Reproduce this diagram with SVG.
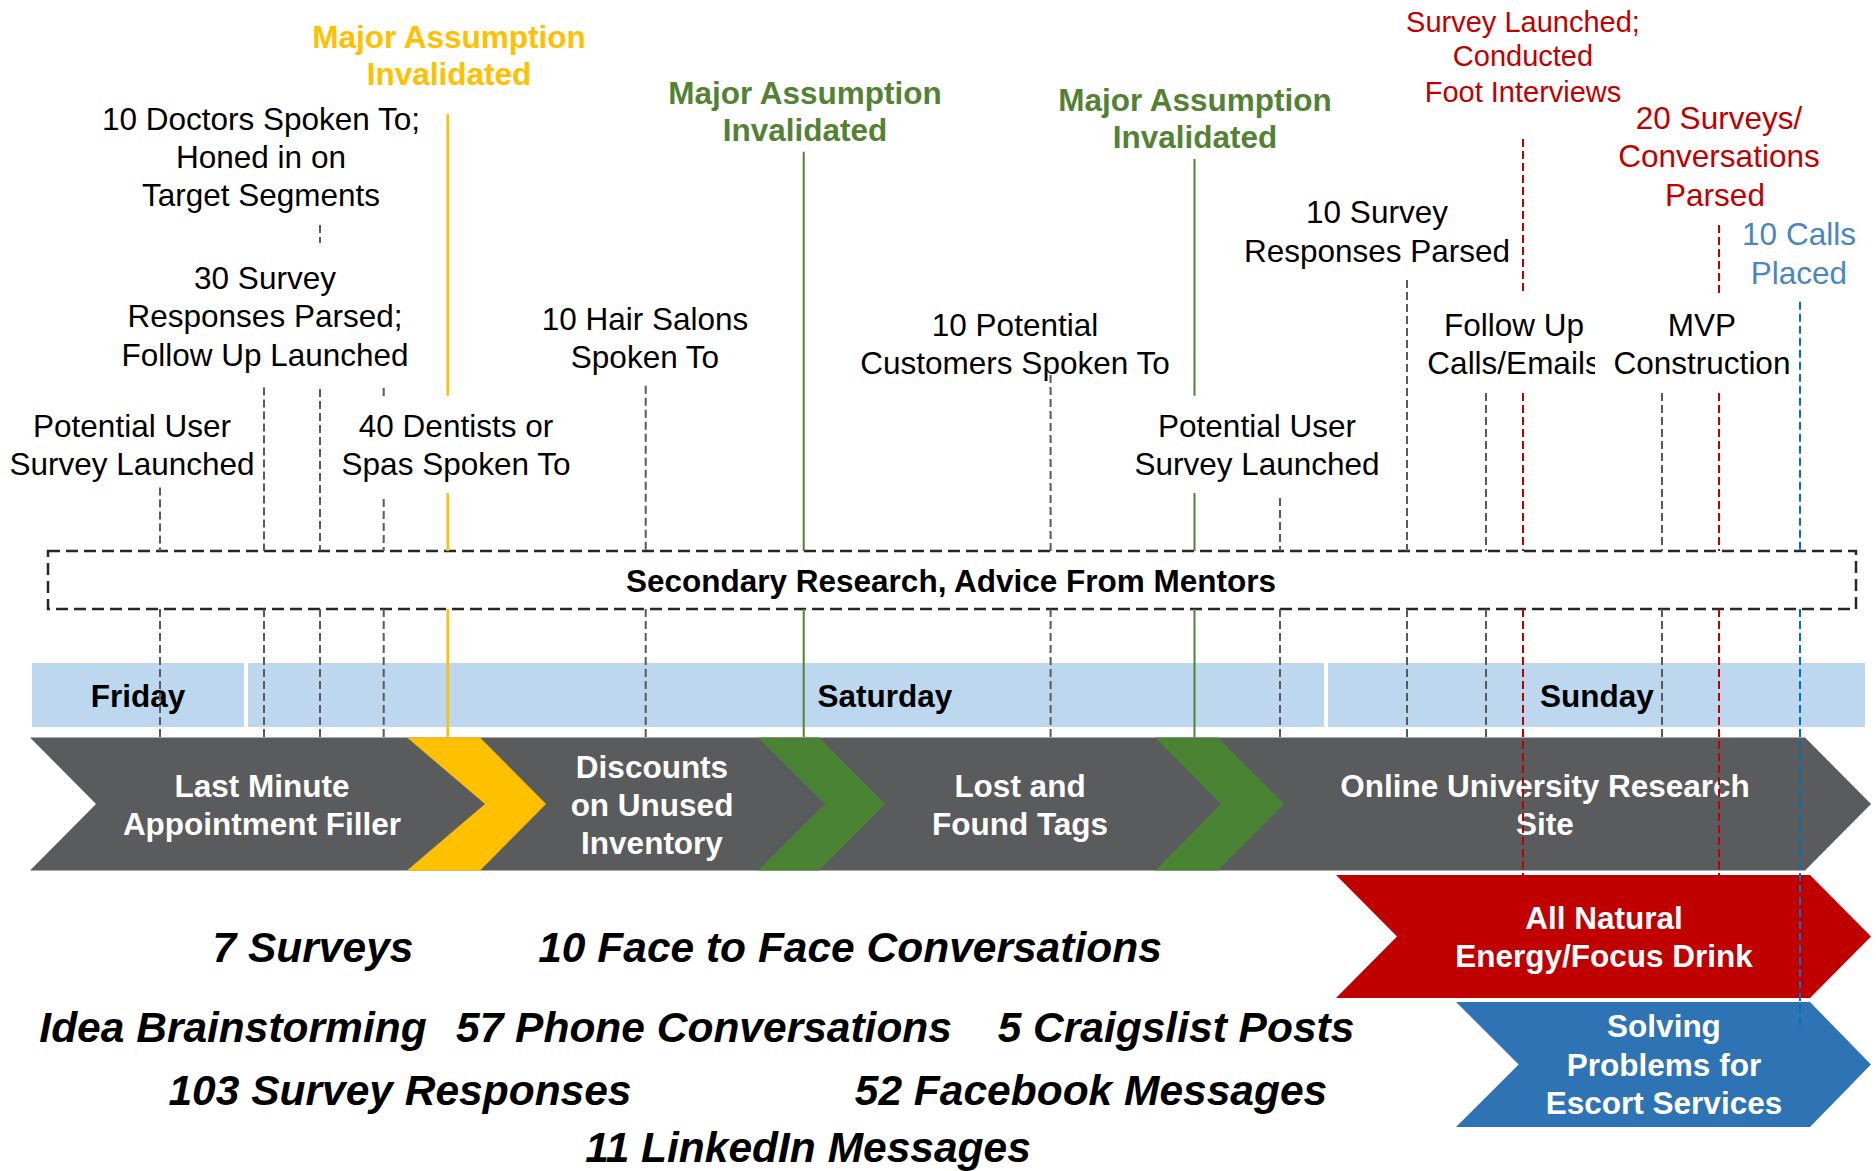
<svg xmlns="http://www.w3.org/2000/svg" width="1876" height="1171" viewBox="0 0 1876 1171">
  <style>
    text { font-family: "Liberation Sans", Arial, sans-serif; font-size: 31.5px; text-anchor: middle; fill: #000; }
    .b { font-weight: bold; }
    .w { fill: #fff; font-weight: bold; }
    .red { fill: #C00000; }
    .yel { fill: #FFC000; font-weight: bold; }
    .grn { fill: #548235; font-weight: bold; }
    .blu { fill: #4A86C0; }
    .stat { font-weight: bold; font-style: italic; font-size: 42.5px; }
    .day { fill: #BDD7EE; }
    .gd { fill: none; stroke: #595959; stroke-width: 2; stroke-dasharray: 8 4; }
    .rd { fill: none; stroke: #C00000; stroke-width: 2; stroke-dasharray: 8 4; }
    .bd { fill: none; stroke: #0070C0; stroke-width: 2; stroke-dasharray: 8 4; }
    .ys { fill: none; stroke: #FFC000; stroke-width: 2.5; }
    .gs { fill: none; stroke: #548235; stroke-width: 2; }
  </style>
  <defs>
    <clipPath id="clipCalls">
      <rect x="1400" y="330" width="195" height="60"/>
    </clipPath>
  </defs>
  <rect width="1876" height="1171" fill="#fff"/>

  <!-- day bars -->
  <g id="days">
    <rect class="day" x="32" y="663" width="212" height="64"/>
    <rect class="day" x="248" y="663" width="1076" height="64"/>
    <rect class="day" x="1328" y="663" width="537" height="64"/>
    <text class="b" x="138" y="707">Friday</text>
    <text class="b" x="885" y="707">Saturday</text>
    <text class="b" x="1597" y="707">Sunday</text>
  </g>

  <!-- ongoing research box -->
  <g id="secondary-research">
    <rect x="48" y="551" width="1808" height="58" fill="none" stroke="#262626" stroke-width="2.5" stroke-dasharray="12 6"/>
    <text class="b" x="951" y="592">Secondary Research, Advice From Mentors</text>
  </g>

  <!-- main idea band -->
  <g id="idea-band">
    <polygon points="30,737.5 1805,737.5 1871,804 1805,870.5 30,870.5 96,804" fill="#5A5B5D"/>
    <polygon points="407,737.5 480,737.5 546,804 480,870.5 407,870.5 485,804" fill="#FFC000"/>
    <polygon points="758,737.5 819,737.5 885,804 819,870.5 758,870.5 825,804" fill="#4B8334"/>
    <polygon points="1155,737.5 1218,737.5 1284,804 1218,870.5 1155,870.5 1221,804" fill="#4B8334"/>
  </g>
  <g id="idea-last-minute">
    <text class="w"><tspan x="262" y="797">Last Minute</tspan><tspan x="262" y="835">Appointment Filler</tspan></text>
  </g>
  <g id="idea-discounts">
    <text class="w"><tspan x="652" y="778">Discounts</tspan><tspan x="652" y="815.5">on Unused</tspan><tspan x="652" y="853.5">Inventory</tspan></text>
  </g>
  <g id="idea-lost-found">
    <text class="w"><tspan x="1020" y="797">Lost and</tspan><tspan x="1020" y="835">Found Tags</tspan></text>
  </g>
  <g id="idea-online-research">
    <text class="w"><tspan x="1545" y="797">Online University Research</tspan><tspan x="1545" y="835">Site</tspan></text>
  </g>
  <g id="idea-energy-drink">
    <polygon points="1336,875 1810,875 1871,936.5 1810,998 1336,998 1397,936.5" fill="#C00000"/>
    <text class="w"><tspan x="1604" y="928.5">All Natural</tspan><tspan x="1604" y="967">Energy/Focus Drink</tspan></text>
  </g>
  <g id="idea-escort-services">
    <polygon points="1456,1002 1810,1002 1871,1064.5 1810,1127 1456,1127 1518.6,1064.5" fill="#2E74B5"/>
    <text class="w"><tspan x="1664" y="1037">Solving</tspan><tspan x="1664" y="1076">Problems for</tspan><tspan x="1664" y="1114">Escort Services</tspan></text>
  </g>

  <!-- milestone labels -->
  <g id="m-yellow-invalidated">
    <text class="yel"><tspan x="449" y="47.5">Major Assumption</tspan><tspan x="449" y="85">Invalidated</tspan></text>
  </g>
  <g id="m-doctors">
    <text><tspan x="261" y="129.5">10 Doctors Spoken To;</tspan><tspan x="261" y="167.5">Honed in on</tspan><tspan x="261" y="206">Target Segments</tspan></text>
  </g>
  <g id="m-30-surveys">
    <text><tspan x="265" y="288.5">30 Survey</tspan><tspan x="265" y="327">Responses Parsed;</tspan><tspan x="265" y="366">Follow Up Launched</tspan></text>
  </g>
  <g id="m-user-survey-1">
    <text><tspan x="132" y="436.5">Potential User</tspan><tspan x="132" y="475">Survey Launched</tspan></text>
  </g>
  <g id="m-dentists">
    <text><tspan x="456" y="436.5">40 Dentists or</tspan><tspan x="456" y="475">Spas Spoken To</tspan></text>
  </g>
  <g id="m-hair-salons">
    <text><tspan x="645" y="329.5">10 Hair Salons</tspan><tspan x="645" y="368">Spoken To</tspan></text>
  </g>
  <g id="m-green-invalidated-1">
    <text class="grn"><tspan x="805" y="103.5">Major Assumption</tspan><tspan x="805" y="141">Invalidated</tspan></text>
  </g>
  <g id="m-customers">
    <text><tspan x="1015" y="335.5">10 Potential</tspan><tspan x="1015" y="373.5">Customers Spoken To</tspan></text>
  </g>
  <g id="m-green-invalidated-2">
    <text class="grn"><tspan x="1195" y="110.5">Major Assumption</tspan><tspan x="1195" y="148">Invalidated</tspan></text>
  </g>
  <g id="m-user-survey-2">
    <text><tspan x="1257" y="436.5">Potential User</tspan><tspan x="1257" y="475">Survey Launched</tspan></text>
  </g>
  <g id="m-10-surveys">
    <text><tspan x="1377" y="223">10 Survey</tspan><tspan x="1377" y="262">Responses Parsed</tspan></text>
  </g>
  <g id="m-foot-interviews">
    <text class="red" style="font-size:29px"><tspan x="1523" y="31.5">Survey Launched;</tspan><tspan x="1523" y="66">Conducted</tspan><tspan x="1523" y="101.5">Foot Interviews</tspan></text>
  </g>
  <g id="m-follow-up">
    <text x="1514" y="335.5">Follow Up</text>
    <text x="1514" y="373.5" clip-path="url(#clipCalls)">Calls/Emails</text>
  </g>
  <g id="m-20-surveys">
    <text class="red"><tspan x="1719" y="128.5">20 Surveys/</tspan><tspan x="1719" y="167">Conversations</tspan><tspan x="1715" y="206">Parsed</tspan></text>
  </g>
  <g id="m-mvp">
    <text><tspan x="1702" y="335.5">MVP</tspan><tspan x="1702" y="373.5">Construction</tspan></text>
  </g>
  <g id="m-calls">
    <text class="blu"><tspan x="1799" y="245">10 Calls</tspan><tspan x="1799" y="284">Placed</tspan></text>
  </g>

  <!-- weekend totals -->
  <g id="totals">
    <text class="stat" x="313" y="962">7 Surveys</text>
    <text class="stat" x="850" y="962">10 Face to Face Conversations</text>
    <text class="stat" x="233" y="1042">Idea Brainstorming</text>
    <text class="stat" x="704" y="1042">57 Phone Conversations</text>
    <text class="stat" x="1176" y="1042">5 Craigslist Posts</text>
    <text class="stat" x="400" y="1105">103 Survey Responses</text>
    <text class="stat" x="1091" y="1105">52 Facebook Messages</text>
    <text class="stat" x="808" y="1162">11 LinkedIn Messages</text>
  </g>

  <!-- connectors: milestone drop lines -->
  <g id="connectors">
    <path class="gd" d="M320,225V243M320,389V551M320,609V737"/>
    <path class="gd" d="M264,387.5V551M264,609V737"/>
    <path class="gd" d="M160,487.5V551M160,609V737"/>
    <path class="gd" d="M383.7,388V396M383.7,499V551M383.7,609V737"/>
    <path class="gd" d="M645.7,385.7V551M645.7,609V737"/>
    <path class="gd" d="M1050.6,375V551M1050.6,609V737"/>
    <path class="gd" d="M1280,498V551M1280,609V737"/>
    <path class="gd" d="M1407,280V551M1407,609V737"/>
    <path class="gd" d="M1486,393V551M1486,609V737"/>
    <path class="gd" d="M1662,393V551M1662,609V737"/>
    <path class="ys" d="M447.7,114V396M447.7,493V551M447.7,609V737"/>
    <path class="gs" d="M803.7,151.8V551M803.7,609V737"/>
    <path class="gs" d="M1194.5,159V395.7M1194.5,493V551M1194.5,609V737"/>
    <path class="rd" d="M1523,139V294.6M1523,393V551M1523,609V875"/>
    <path class="rd" d="M1719,225V294.6M1719,393V551M1719,609V875"/>
    <path class="bd" d="M1800,301.8V551M1800,609V1030"/>
  </g>
</svg>
